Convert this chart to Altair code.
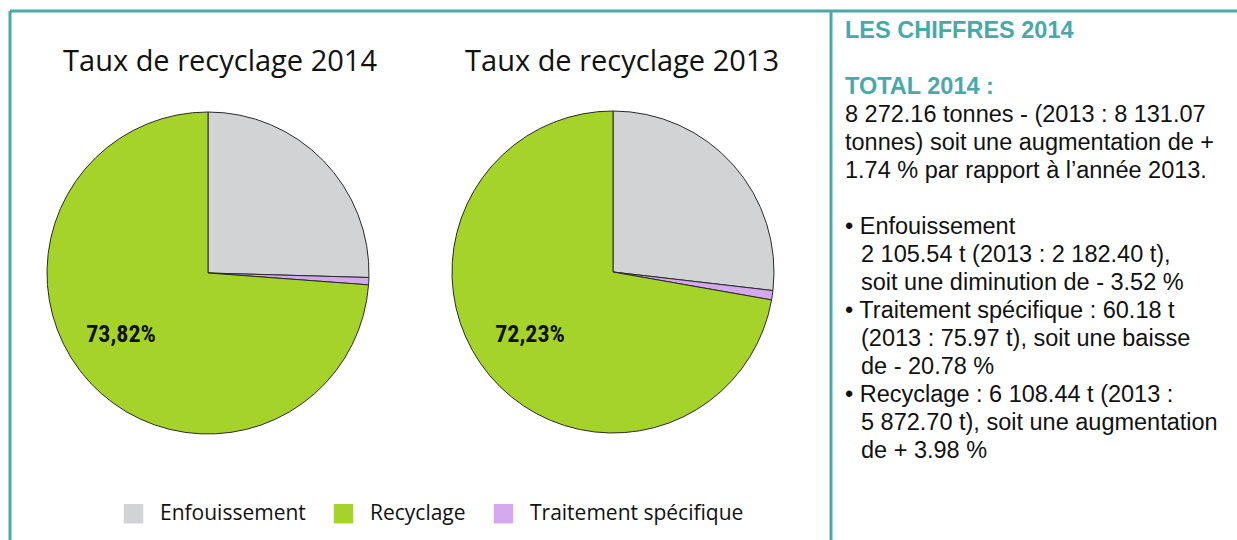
import altair as alt
import pandas as pd

# ---------------- data ----------------
categories = ["Enfouissement", "Traitement spécifique", "Recyclage"]
tonnes_2014 = [2105.54, 60.18, 6108.44]
tonnes_2013 = [2182.40, 75.97, 5872.70]
pie_titles = ["Taux de recyclage 2014", "Taux de recyclage 2013"]
recycling_labels = ["73,82%", "72,23%"]

legend_order = ["Enfouissement", "Recyclage", "Traitement spécifique"]
legend_colors = ["#d2d3d5", "#a6d32a", "#d6a8f0"]

panel_text = [
    "LES CHIFFRES 2014",
    "",
    "TOTAL 2014 :",
    "\u00a08 272.16 tonnes - (2013 : 8 131.07",
    "tonnes) soit une augmentation de +",
    "1.74 % par rapport à l’année 2013.",
    "",
    "• Enfouissement",
    "2 105.54 t (2013 : 2 182.40 t),",
    "soit une diminution de - 3.52 %",
    "• Traitement spécifique : 60.18 t",
    "(2013 : 75.97 t), soit une baisse",
    "de - 20.78 %",
    "• Recyclage : 6 108.44 t (2013 :",
    "5 872.70 t), soit une augmentation",
    "de + 3.98 %",
]
panel_kind = ["head", "text", "head", "text", "text", "text", "text",
              "bullet", "cont", "cont", "bullet", "cont", "cont",
              "bullet", "cont", "cont"]

# ---------------- tables ----------------
pie_df = pd.DataFrame({
    "category": categories * 2,
    "tonnes": tonnes_2014 + tonnes_2013,
    "year": [2014] * 3 + [2013] * 3,
    "rank": list(range(3)) * 2,
})
panel_df = pd.DataFrame({"line": panel_text, "kind": panel_kind})

TEAL = "#49a9a8"

color = alt.Color(
    "category:N",
    scale=alt.Scale(domain=legend_order, range=legend_colors),
    legend=alt.Legend(
        title=None, orient="none", direction="horizontal",
        legendX=123, legendY=503, symbolType="square", symbolSize=380,
        symbolStrokeWidth=0, symbolOpacity=1, labelFontSize=21,
        labelFont="Open Sans", labelColor="#111", labelOffset=16,
        labelLimit=0, columnPadding=27, padding=0,
    ),
)


def pie(year, cx, cy):
    return (
        alt.Chart(pie_df)
        .transform_filter(alt.datum.year == year)
        .mark_arc(outerRadius=161, stroke="#2a2a2a", strokeWidth=1)
        .encode(
            theta=alt.Theta("tonnes:Q", stack="normalize"),
            color=color,
            order=alt.Order("rank:Q"),
            x=alt.value(cx),
            y=alt.value(cy),
        )
    )


def title(txt, cx):
    return alt.Chart(pd.DataFrame({"t": [txt]})).mark_text(
        font="Open Sans", fontSize=29, color="#111", align="center", baseline="middle"
    ).encode(text="t:N", x=alt.value(cx), y=alt.value(62))


def pct(txt, cx):
    return alt.Chart(pd.DataFrame({"t": [txt]})).mark_text(
        font="Roboto Condensed, Roboto", fontSize=24, fontWeight="bold", color="#111",
        align="center", baseline="middle"
    ).encode(text="t:N", x=alt.value(cx), y=alt.value(335))


def rule(x1, x2, y1, y2):
    return alt.Chart(pd.DataFrame({"a": [0]})).mark_rule(
        color=TEAL, strokeWidth=3
    ).encode(x=alt.value(x1), x2=alt.value(x2), y=alt.value(y1), y2=alt.value(y2))


panel_base = (
    alt.Chart(panel_df)
    .transform_window(row="row_number()")
    .transform_calculate(
        py="31 + 28 * (datum.row - 1)",
        px="datum.kind == 'cont' ? 861 : 845",
    )
)
panel_heads = panel_base.transform_filter(alt.datum.kind == "head").mark_text(
    font="Liberation Sans", fontSize=23.5, fontWeight="bold", color=TEAL,
    align="left", baseline="middle"
).encode(text="line:N", x=alt.X("px:Q", scale=None), y=alt.Y("py:Q", scale=None))
panel_body = panel_base.transform_filter(alt.datum.kind != "head").mark_text(
    font="Liberation Sans", fontSize=23.5, color="#111",
    align="left", baseline="middle"
).encode(text="line:N", x=alt.X("px:Q", scale=None), y=alt.Y("py:Q", scale=None))

chart = alt.layer(
    rule(10, 1237, 11, 11),
    rule(10, 10, 11, 540),
    rule(831, 831, 11, 540),
    pie(2014, 208, 273),
    pie(2013, 613, 272),
    title(pie_titles[0], 220),
    title(pie_titles[1], 622),
    pct(recycling_labels[0], 121),
    pct(recycling_labels[1], 530),
    panel_heads,
    panel_body,
).properties(
    width=1237, height=540, padding=0, autosize=alt.AutoSizeParams(type="none")
).configure_view(stroke=None)

chart.save("out.html", embed_options={"renderer": "svg", "actions": False})
